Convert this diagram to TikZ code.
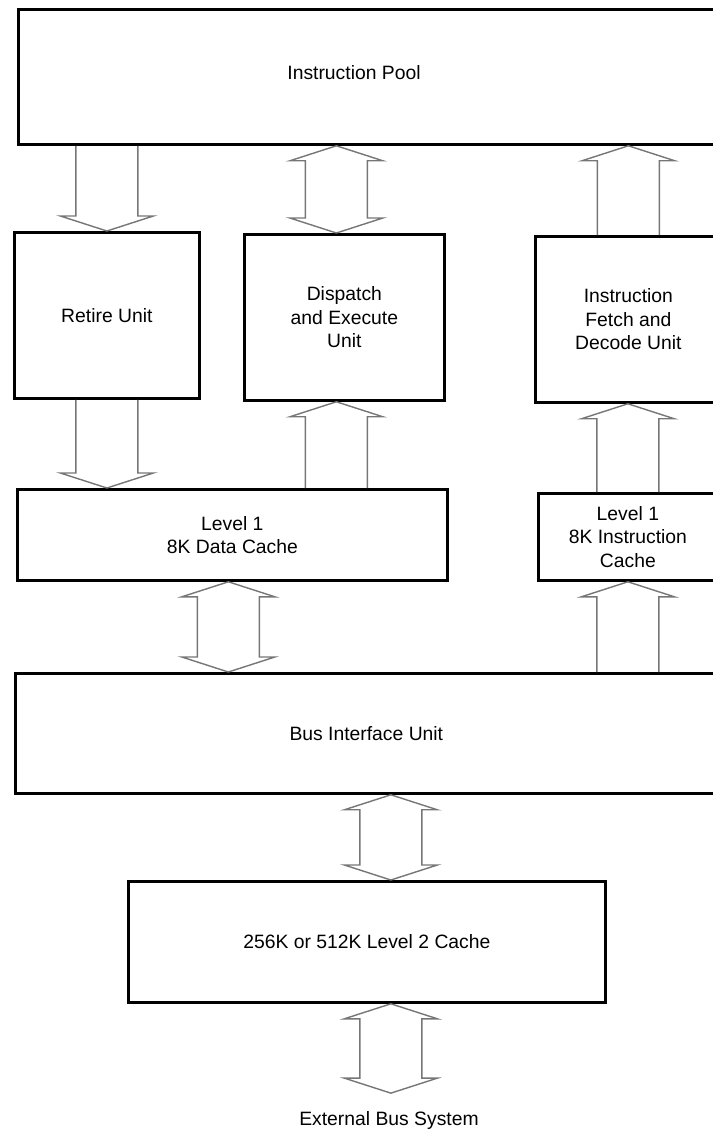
\documentclass[tikz,border=0pt]{standalone}
\usepackage{fontspec}
\setmainfont{Liberation Sans}
\usetikzlibrary{%
    calc,%
    positioning
    }
\definecolor{shaftgray}{RGB}{118,118,118}
\tikzset{
  unitbox/.style={
    rectangle,
    anchor=north west,
    inner sep=0pt,
    align=center,
    line width=1.6pt,
    draw=black,
    font=\fontsize{11}{13.4}\selectfont,
  },
  plainlabel/.style={
    inner sep=2pt,
    font=\fontsize{11}{13.4}\selectfont,
  },
  busline/.style={
    draw=shaftgray,
    line width=0.8pt,
    line join=miter,
  },
}
% block arrow: tail, tip
\newcommand{\onearrow}[2]{%
  \coordinate (hb) at ($(#2)!0.3cm!(#1)$);
  \draw[busline]
    ($(#1)!0.62cm!90:(#2)$) -- ($(hb)!0.62cm!90:(#2)$)
    -- ($(hb)!0.93cm!90:(#2)$) -- (#2)
    -- ($(hb)!0.93cm!-90:(#2)$) -- ($(hb)!0.62cm!-90:(#2)$)
    -- ($(#1)!0.62cm!-90:(#2)$);
}
% block arrow with two heads
\newcommand{\twoarrow}[2]{%
  \coordinate (hba) at ($(#1)!0.3cm!(#2)$);
  \coordinate (hbb) at ($(#2)!0.3cm!(#1)$);
  \draw[busline]
    (#1) -- ($(hba)!0.93cm!90:(#2)$) -- ($(hba)!0.62cm!90:(#2)$)
    -- ($(hbb)!0.62cm!-90:(#1)$) -- ($(hbb)!0.93cm!-90:(#1)$) -- (#2)
    -- ($(hbb)!0.93cm!90:(#1)$) -- ($(hbb)!0.62cm!90:(#1)$)
    -- ($(hba)!0.62cm!-90:(#2)$) -- ($(hba)!0.93cm!-90:(#2)$) -- cycle;
}

\begin{document}
\begin{tikzpicture}[x=0.02cm,y=-0.02cm]
\useasboundingbox (0,0) rectangle (713,1130);
\clip (0,0) rectangle (713,1130);

\node[unitbox,minimum width=14.9cm,minimum height=2.7cm] 
  (pool) at (17,8)
  {};
\node[plainlabel] 
  (pooltext) at (354,73)
  {Instruction Pool};
\node[unitbox,minimum width=3.7cm,minimum height=3.32cm] 
  (retire) at (13,231)
  {Retire Unit};
\node[unitbox,minimum width=4cm,minimum height=3.32cm] 
  (dispatch) at (243,233)
  {Dispatch\\and Execute\\Unit};
\node[unitbox,minimum width=3.72cm,minimum height=3.32cm] 
  (fetch) at (534,235)
  {Instruction\\Fetch and\\Decode Unit};
\node[unitbox,minimum width=8.6cm,minimum height=1.82cm] 
  (l1data) at (16,488)
  {Level 1\\8K Data Cache};
\node[unitbox,minimum width=3.58cm,minimum height=1.74cm] 
  (l1inst) at (537,492)
  {Level 1\\8K Instruction\\Cache};
\node[unitbox,minimum width=14.04cm,minimum height=2.4cm] 
  (biu) at (14,672)
  {Bus Interface Unit};
\node[unitbox,minimum width=9.54cm,minimum height=2.42cm] 
  (l2) at (127,880)
  {256K or 512K Level 2 Cache};
\node[plainlabel] 
  (ext) at (389,1120)
  {External Bus System};

\coordinate (retin) at (pool.south -| retire.north);
\coordinate (dspup) at ($(pool.south -| dispatch.north)+(-8,0)$);
\coordinate (dspdn) at ($(dispatch.north)+(-8,0)$);
\coordinate (fetchout) at (pool.south -| fetch.north);
\coordinate (l1din) at (l1data.north -| retire.south);
\coordinate (dspin) at ($(dispatch.south)+(-8,0)$);
\coordinate (l1dout) at (l1data.north -| dspin);
\coordinate (fetchin) at (fetch.south -| l1inst.north);
\coordinate (l1dbus) at ($(l1data.south)+(-4,0)$);
\coordinate (biutop) at (biu.north -| l1dbus);
\coordinate (biuout) at (biu.north -| l1inst.south);
\coordinate (l2top) at ($(l2.north)+(24,0)$);
\coordinate (biubot) at (biu.south -| l2top);
\coordinate (l2bot) at ($(l2.south)+(24,0)$);
\coordinate (extin) at ($(ext.north -| l2bot)+(0,-14)$);

\onearrow{retin}{retire.north}
\twoarrow{dspup}{dspdn}
\onearrow{fetch.north}{fetchout}
\onearrow{retire.south}{l1din}
\onearrow{l1dout}{dspin}
\onearrow{l1inst.north}{fetchin}
\twoarrow{l1dbus}{biutop}
\onearrow{biuout}{l1inst.south}
\twoarrow{biubot}{l2top}
\twoarrow{l2bot}{extin}
\end{tikzpicture}
\end{document}
